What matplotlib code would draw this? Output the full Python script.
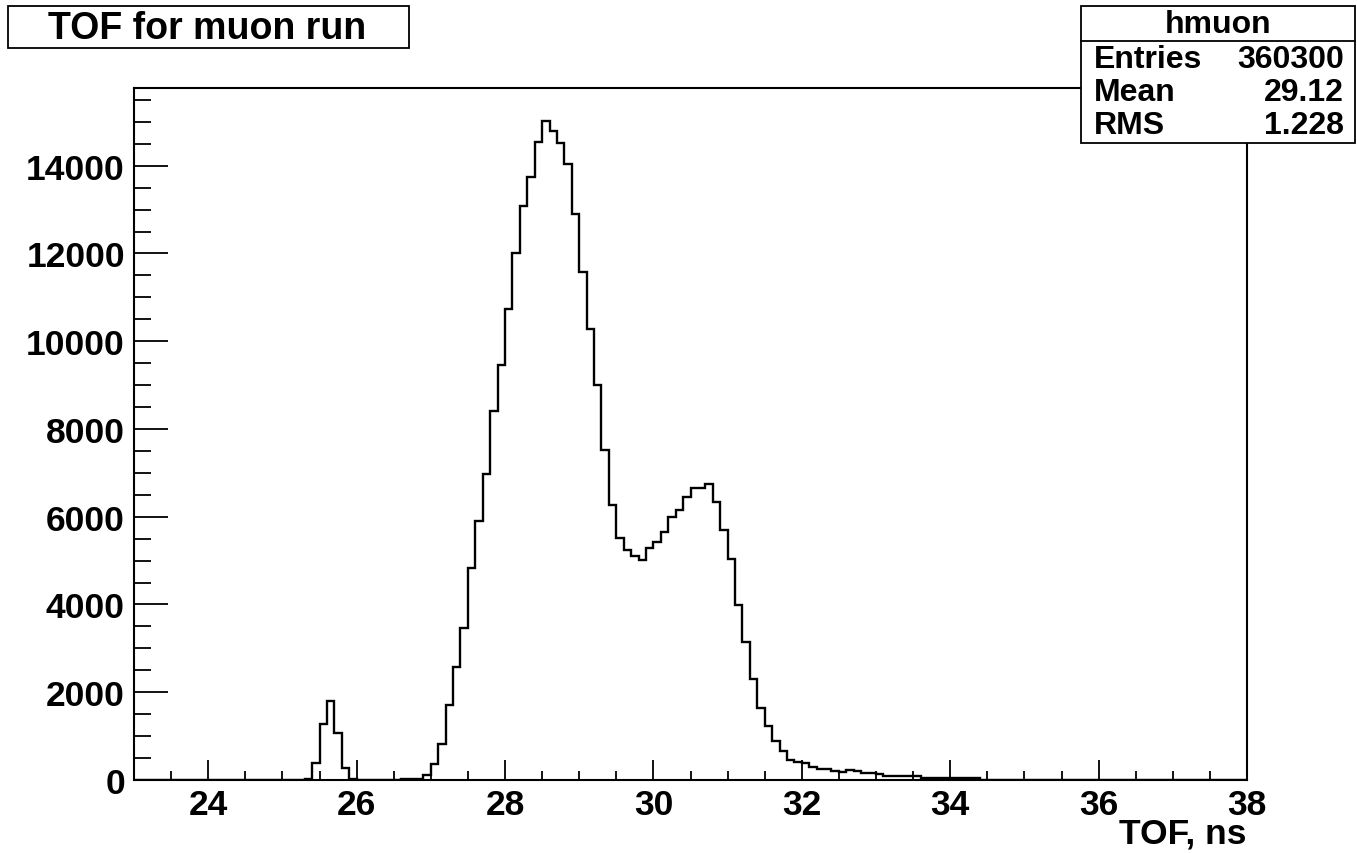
import numpy as np
import matplotlib
matplotlib.use('Agg')
import matplotlib.pyplot as plt
from matplotlib.patches import Rectangle
from matplotlib.lines import Line2D
from matplotlib.ticker import MultipleLocator

# TOF histogram: 0.1 ns bins over 23-38 ns, counts listed from the 25.3 ns bin on
x_min, x_max, bin_w = 23.0, 38.0, 0.1
first_bin = 25.3
counts = [30, 390, 1280, 1810, 1070, 275, 30,
          0, 0, 0, 0, 0, 0,
          20, 25, 30, 120,
          370, 820, 1700, 2580, 3470, 4840, 5900, 6980, 8410, 9450,
          10730, 12010, 13090, 13750, 14550, 15020, 14800, 14520, 14040, 12910,
          11580, 10280, 9000, 7520, 6270, 5520, 5240, 5100, 5020, 5280,
          5430, 5650, 5990, 6160, 6450, 6650, 6660, 6750, 6330, 5700,
          5040, 3995, 3150, 2300, 1650, 1230, 880, 670, 465, 405,
          390, 290, 250, 250, 215, 190, 225, 200, 160, 160,
          135, 100, 100, 100, 100, 85, 45, 45, 45, 45,
          45, 45, 45, 45]

hist_name = 'hmuon'
stat_names = ['Entries', 'Mean', 'RMS']
stat_values = ['360300', '29.12', '1.228']

n_bins = int(round((x_max - x_min) / bin_w))
edges = np.linspace(x_min, x_max, n_bins + 1)
values = np.zeros(n_bins)
i0 = int(round((first_bin - x_min) / bin_w))
values[i0:i0 + len(counts)] = counts

W, H = 1357, 854
plt.rcParams['font.family'] = ['Liberation Sans', 'DejaVu Sans']
plt.rcParams['font.weight'] = 'bold'

fig = plt.figure(figsize=(W / 100, H / 100), dpi=100)
fig.patch.set_facecolor('white')

def fx(px):
    return px / W

def fy(py):
    return 1 - py / H

ax = fig.add_axes([fx(134), fy(781), fx(1247) - fx(134), fy(89) - fy(781)])
ax.stairs(values, edges, color='black', linewidth=1.7)
ax.set_xlim(x_min, x_max)
ax.set_ylim(0, 1.05 * max(counts))

ax.xaxis.set_major_locator(MultipleLocator(2))
ax.xaxis.set_minor_locator(MultipleLocator(0.5))
ax.yaxis.set_major_locator(MultipleLocator(2000))
ax.yaxis.set_minor_locator(MultipleLocator(500))
ax.tick_params(axis='x', which='major', direction='in', length=14.5, width=1.3,
               labelsize=25.5, pad=5.5)
ax.tick_params(axis='x', which='minor', direction='in', length=6.5, width=1.3)
ax.tick_params(axis='y', which='major', direction='in', length=24.5, width=1.3,
               labelsize=25.5, pad=6.5)
ax.tick_params(axis='y', which='minor', direction='in', length=12, width=1.3)
for lab in ax.get_xticklabels() + ax.get_yticklabels():
    lab.set_fontweight('bold')
for sp in ax.spines.values():
    sp.set_linewidth(1.5)

ax.set_xlabel('TOF, ns', fontsize=25.5, fontweight='bold', loc='right', labelpad=-3)

# title box
fig.add_artist(Rectangle((fx(8), fy(49)), fx(409) - fx(8), fy(7) - fy(49),
                         transform=fig.transFigure, facecolor='white',
                         edgecolor='black', linewidth=1.3))
fig.text(fx(207), fy(29), 'TOF for muon run', ha='center', va='center',
         fontsize=27, fontweight='bold')

# stats box
fig.add_artist(Rectangle((fx(1081), fy(144)), fx(1355) - fx(1081), fy(7) - fy(144),
                         transform=fig.transFigure, facecolor='white',
                         edgecolor='black', linewidth=1.3, zorder=5))
fig.add_artist(Line2D([fx(1081), fx(1355)], [fy(42), fy(42)],
                      transform=fig.transFigure, color='black', linewidth=1.3, zorder=6))
fig.text(fx(1218), fy(25), hist_name, ha='center', va='center',
         fontsize=23, fontweight='bold', zorder=7)
for k, (name, val) in enumerate(zip(stat_names, stat_values)):
    yy = fy(60 + 33 * k)
    fig.text(fx(1094), yy, name, ha='left', va='center', fontsize=23,
             fontweight='bold', zorder=7)
    fig.text(fx(1344), yy, val, ha='right', va='center', fontsize=23,
             fontweight='bold', zorder=7)

fig.savefig('out.png', dpi=100)
